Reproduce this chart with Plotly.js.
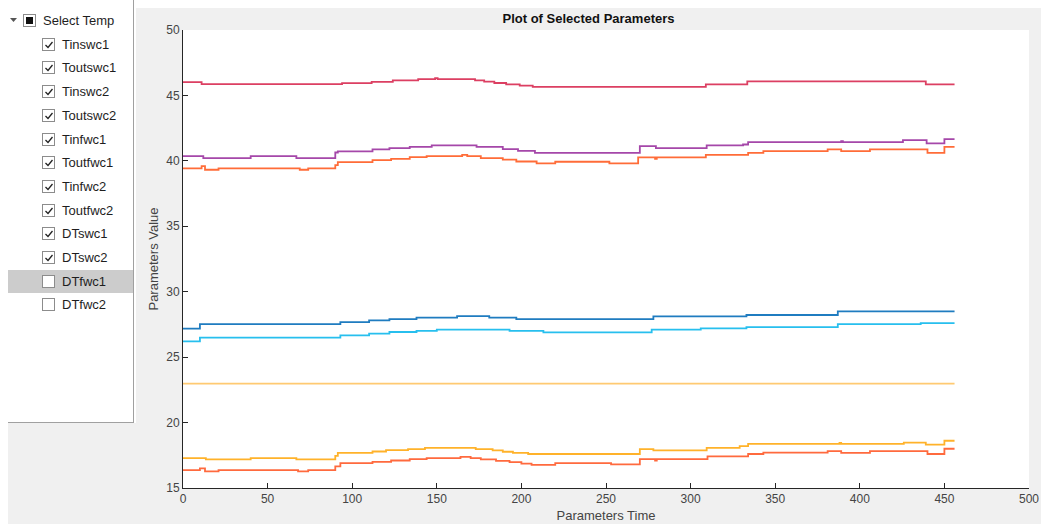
<!DOCTYPE html>
<html>
<head>
<meta charset="utf-8">
<script src="https://cdn.plot.ly/plotly-3.0.1.min.js"></script>
<style>
  html, body { margin:0; padding:0; background:#ffffff; width:1041px; height:524px; overflow:hidden; font-family:"Liberation Sans", Arial, sans-serif; }
  #tree { position:absolute; left:8px; top:0px; width:125px; height:422px; background:#ffffff; border-right:1px solid #a0a0a0; border-bottom:1px solid #a0a0a0; }
  #under { position:absolute; left:8px; top:423px; width:128px; height:101px; background:#f0f0f0; }
  .row { position:absolute; left:0; width:125px; height:23px; font-size:13px; color:#1e1e1e; line-height:23px; }
  .row.sel { background:#cccccc; }
  .cb { position:absolute; top:5px; width:13px; height:13px; border:1px solid #8c8c8c; background:#fff; box-sizing:border-box; }
  .lbl { position:absolute; top:0; white-space:nowrap; }
  #plot { position:absolute; left:136px; top:8px; width:905px; height:516px; }
</style>
</head>
<body>
<div id="under"></div>
<div id="tree"></div>
<div id="plot"></div>
<script>
// ---- tree labels ----
const parentLabel = "Select Temp";
const childLabels = ["Tinswc1","Toutswc1","Tinswc2","Toutswc2","Tinfwc1","Toutfwc1","Tinfwc2","Toutfwc2","DTswc1","DTswc2","DTfwc1","DTfwc2"];
const childChecked = [true,true,true,true,true,true,true,true,true,true,false,false];
const selectedRow = "DTfwc1";

// ---- series data (time breakpoints and values) ----
const tRed = [0, 11, 94, 111.5, 124, 139, 149, 150.5, 172.6, 178, 184, 191, 199, 206.7, 309, 333.5, 439, 456];
const vRed = [46.02, 45.87, 45.94, 46.04, 46.15, 46.25, 46.32, 46.25, 46.15, 46.05, 45.95, 45.85, 45.75, 45.66, 45.85, 46.07, 45.85, 45.85];

const tPurple = [0, 12, 40, 67, 90, 91.5, 112, 122, 134, 147, 173.5, 189, 198, 208, 270, 279.5, 309.5, 331, 334, 389, 390, 425.5, 439.5, 450, 456];
const vPurple = [40.36, 40.21, 40.36, 40.21, 40.64, 40.72, 40.87, 40.97, 41.07, 41.18, 41.07, 40.89, 40.77, 40.61, 41.12, 40.97, 41.18, 41.25, 41.43, 41.5, 41.43, 41.58, 41.33, 41.66, 41.66];

const tOrangeHi = [0, 11, 13, 21, 69, 74, 90, 91.5, 112, 123, 134, 144, 165, 168, 176, 189, 197, 209, 220, 252, 269, 279, 280, 309, 334, 343, 381, 389, 406, 440, 450, 456];
const vOrangeHi = [39.42, 39.6, 39.32, 39.42, 39.32, 39.42, 39.67, 39.9, 40.05, 40.15, 40.28, 40.36, 40.46, 40.36, 40.21, 40.1, 39.95, 39.8, 39.93, 39.8, 40.26, 40.15, 40.26, 40.46, 40.61, 40.74, 40.87, 40.74, 40.87, 40.61, 41.07, 41.07];

const tBlue = [0, 10, 93, 110, 122, 138, 162, 181, 197, 278, 333, 387, 456];
const vBlue = [27.18, 27.53, 27.68, 27.81, 27.91, 28.02, 28.14, 28.02, 27.91, 28.11, 28.22, 28.5, 28.5];

const tCyan = [0, 10, 93, 110, 122, 138, 150, 193, 213, 277, 306, 333, 387, 436, 456];
const vCyan = [26.2, 26.49, 26.66, 26.79, 26.92, 27.0, 27.1, 27.0, 26.89, 27.1, 27.2, 27.3, 27.53, 27.6, 27.6];

const tYellow = [0, 456];
const vYellow = [22.97, 22.97];

const tAmber = [0, 13.5, 40, 67, 90, 91.5, 112, 120, 133, 143, 173, 183, 189, 195, 204, 270, 278, 309.5, 329, 334, 388, 389, 426, 439, 450, 456];
const vAmber = [17.28, 17.18, 17.28, 17.18, 17.45, 17.69, 17.79, 17.89, 17.97, 18.07, 17.97, 17.87, 17.77, 17.69, 17.6, 17.97, 17.87, 18.07, 18.2, 18.37, 18.45, 18.37, 18.47, 18.32, 18.61, 18.61];

const tOrangeLo = [0, 10, 13, 21, 68, 74, 90, 93, 112, 123, 134, 144, 164, 170, 176, 185, 193, 200, 206, 220, 253, 270, 279, 280, 310, 334, 343, 381, 389, 406, 440, 450, 456];
const vOrangeLo = [16.37, 16.5, 16.27, 16.37, 16.27, 16.37, 16.65, 16.9, 17.0, 17.1, 17.2, 17.28, 17.38, 17.28, 17.18, 17.08, 16.97, 16.87, 16.77, 16.9, 16.8, 17.2, 17.1, 17.2, 17.41, 17.6, 17.71, 17.82, 17.69, 17.82, 17.6, 18.0, 18.0];

const xTicks = [0, 50, 100, 150, 200, 250, 300, 350, 400, 450, 500];
const yTicks = [15, 20, 25, 30, 35, 40, 45, 50];

// ---- build tree panel ----
const tree = document.getElementById('tree');
const ROW0 = 9, ROWH = 23.7;
(function(){
  const r = document.createElement('div');
  r.className = 'row'; r.style.top = ROW0 + 'px';
  r.innerHTML = '<svg style="position:absolute;left:2px;top:9px" width="8" height="6"><polygon points="0,0 7,0 3.5,4" fill="#555"/></svg>' +
    '<div class="cb" style="left:15px;"><div style="position:absolute;left:2px;top:2px;width:7px;height:7px;background:#111"></div></div>' +
    '<span class="lbl" style="left:35px">' + parentLabel + '</span>';
  tree.appendChild(r);
})();
childLabels.forEach(function(name, i){
  const r = document.createElement('div');
  r.className = 'row' + (name === selectedRow ? ' sel' : '');
  r.style.top = (ROW0 + ROWH * (i + 1)) + 'px';
  let check = childChecked[i] ? '<svg style="position:absolute;left:1px;top:1px" width="10" height="10"><polyline points="1.5,5 4,7.5 8.5,2" fill="none" stroke="#222" stroke-width="1.3"/></svg>' : '';
  r.innerHTML = '<div class="cb" style="left:34px;">' + check + '</div>' +
    '<span class="lbl" style="left:54px">' + name + '</span>';
  tree.appendChild(r);
});

// ---- plot ----
function tr(t, v, color, name){
  return { x: t, y: v, type: 'scatter', mode: 'lines', name: name,
           line: { color: color, width: 1.8, shape: 'hv' }, hoverinfo: 'skip' };
}
const data = [
  tr(tRed, vRed, '#dc3f62', 'Tinswc1'),
  tr(tPurple, vPurple, '#a547a9', 'Toutswc1'),
  tr(tOrangeHi, vOrangeHi, '#ff6c38', 'Tinswc2'),
  tr(tBlue, vBlue, '#1f7cc0', 'Toutswc2'),
  tr(tCyan, vCyan, '#27bfee', 'Tinfwc1'),
  tr(tYellow, vYellow, '#ffca72', 'Toutfwc1'),
  tr(tAmber, vAmber, '#ffb22a', 'Tinfwc2'),
  tr(tOrangeLo, vOrangeLo, '#ff6a3e', 'Toutfwc2')
];
const axFont = { family: '"Liberation Sans", Arial, sans-serif', size: 12, color: '#444444' };
const layout = {
  width: 905, height: 516,
  margin: { l: 47, r: 12, t: 22, b: 36, pad: 0 },
  paper_bgcolor: '#f0f0f0', plot_bgcolor: '#ffffff',
  showlegend: false,
  title: { text: 'Plot of Selected Parameters', font: { family: '"Liberation Sans", Arial, sans-serif', size: 13, color: '#111111', weight: 'bold' }, x: 0.5, xanchor: 'center', y: 0.98, yanchor: 'middle', yref: 'container' },
  xaxis: {
    range: [0, 500], tickvals: xTicks, ticktext: xTicks.map(String),
    ticks: 'inside', ticklen: 5, tickcolor: '#262626', tickwidth: 1,
    showline: true, linecolor: '#262626', linewidth: 1, mirror: false,
    showgrid: false, zeroline: false, tickfont: axFont,
    title: { text: 'Parameters Time', font: { family: '"Liberation Sans", Arial, sans-serif', size: 13, color: '#444444' }, standoff: 5 }
  },
  yaxis: {
    range: [15, 50], tickvals: yTicks, ticktext: yTicks.map(String),
    ticks: 'inside', ticklen: 5, tickcolor: '#262626', tickwidth: 1,
    showline: true, linecolor: '#262626', linewidth: 1, mirror: false,
    showgrid: false, zeroline: false, tickfont: axFont,
    title: { text: 'Parameters Value', font: { family: '"Liberation Sans", Arial, sans-serif', size: 13, color: '#444444' }, standoff: 4 }
  }
};
Plotly.newPlot('plot', data, layout, { displayModeBar: false, staticPlot: true });
</script>
</body>
</html>
